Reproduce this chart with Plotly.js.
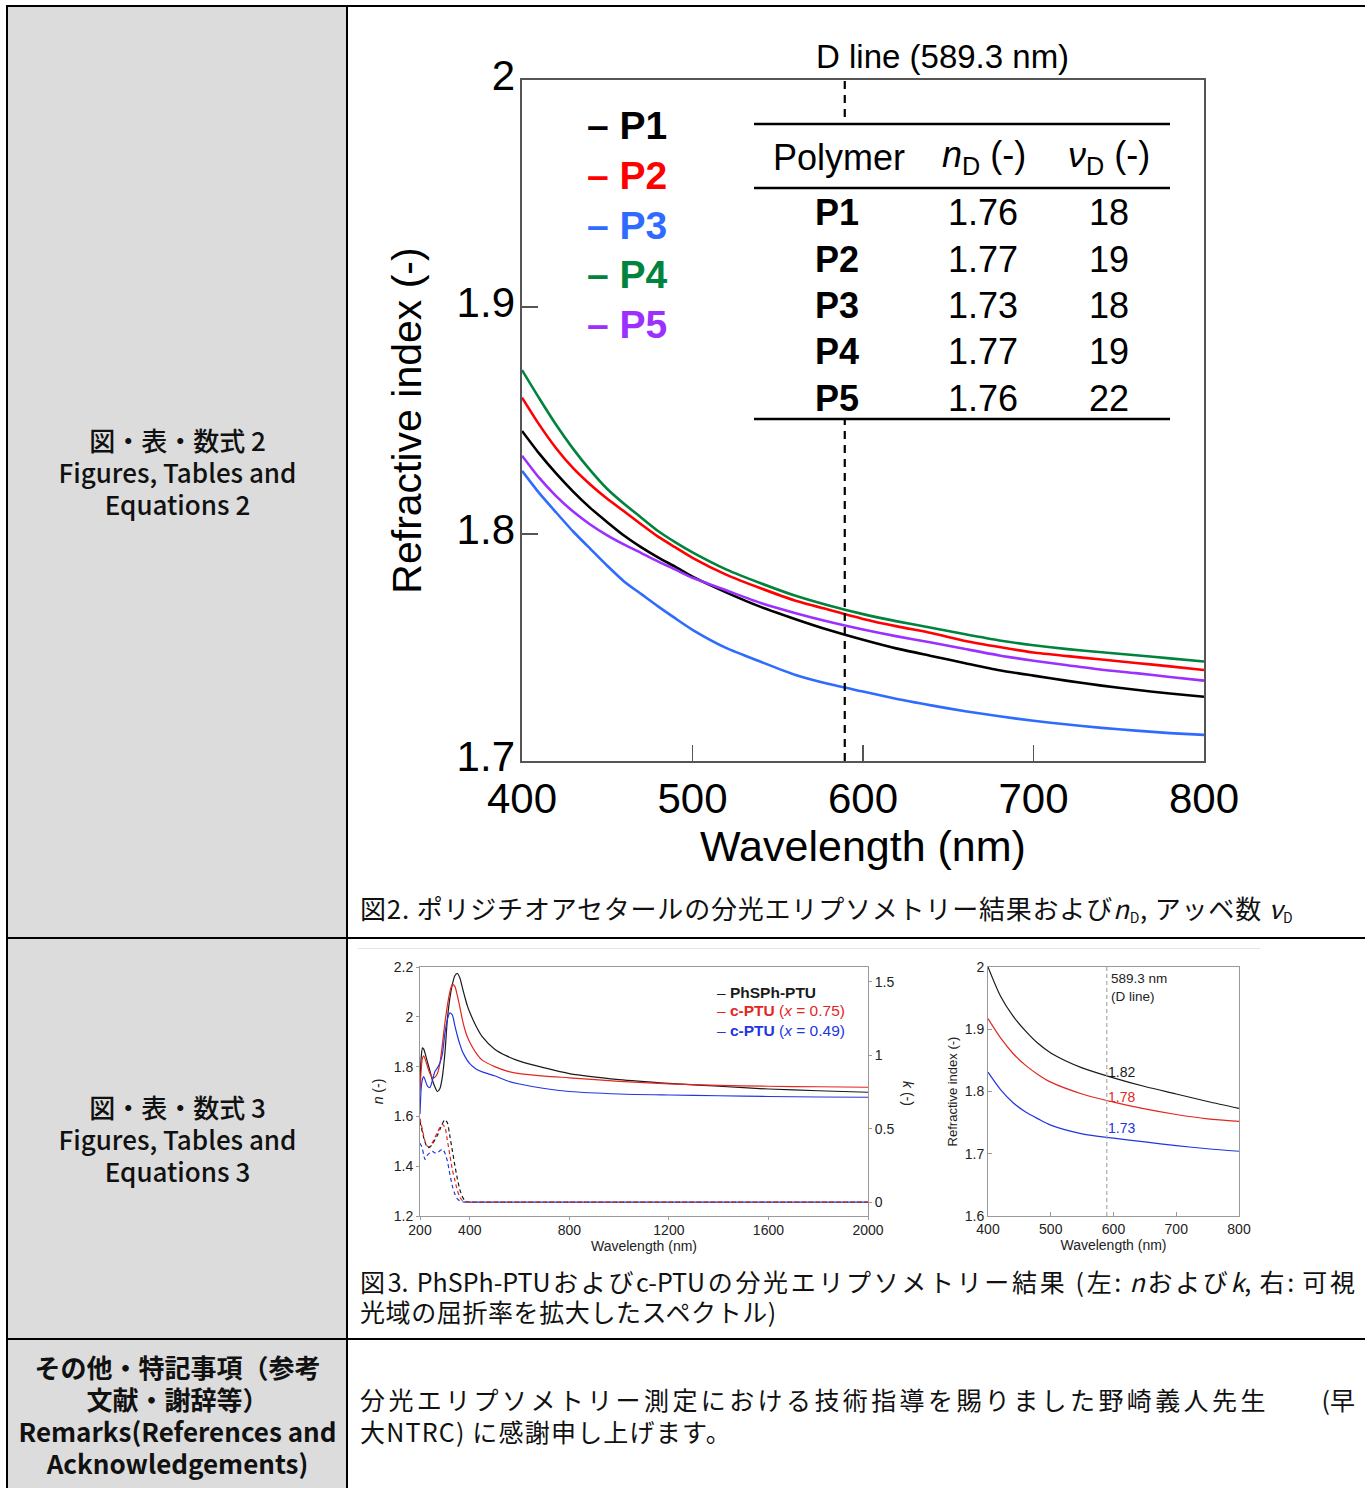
<!DOCTYPE html>
<html><head><meta charset="utf-8">
<script src="https://cdn.plot.ly/plotly-3.0.1.min.js"></script>
<style>
html,body{margin:0;padding:0;background:#fff;}
body{width:1365px;height:1488px;position:relative;overflow:hidden;font-family:"Noto Sans CJK JP","Noto Sans",sans-serif;color:#111;}
.hl{position:absolute;background:#000;height:2px;}
.vl{position:absolute;background:#000;width:2px;}
.lc{position:absolute;left:9px;width:337px;display:flex;flex-direction:column;justify-content:center;align-items:center;text-align:center;font-size:26px;font-weight:500;line-height:32px;}
.cap{position:absolute;left:360px;font-size:25px;line-height:30px;white-space:nowrap;}
.cap sub{font-size:14px;vertical-align:-4px;}
#main,#left3,#right3{position:absolute;}
</style></head><body>
<div style="position:absolute;left:8px;top:6px;width:339px;height:1482px;background:#dcdcdc;"></div>
<div class="hl" style="left:6px;top:5px;width:1359px;"></div>
<div class="hl" style="left:6px;top:937px;width:1359px;"></div>
<div class="hl" style="left:6px;top:1338px;width:1359px;"></div>
<div class="vl" style="left:6px;top:5px;height:1483px;"></div>
<div class="vl" style="left:346px;top:5px;height:1483px;"></div>

<div class="lc" style="top:7px;height:930px;"><div>図・表・数式 2</div><div>Figures, Tables and</div><div>Equations 2</div></div>
<div class="lc" style="top:939px;height:399px;"><div>図・表・数式 3</div><div>Figures, Tables and</div><div>Equations 3</div></div>
<div class="lc" style="top:1340px;height:150px;font-weight:700;"><div>その他・特記事項（参考</div><div>文献・謝辞等）</div><div>Remarks(References and</div><div>Acknowledgements)</div></div>

<div id="main" style="left:349px;top:8px;width:1016px;height:872px;"></div>
<div class="cap" style="top:893px;font-size:26px;letter-spacing:0.8px;">図2. ポリジチオアセタールの分光エリプソメトリー結果および<i>n</i><sub>D</sub>, アッベ数 <i>ν</i><sub>D</sub></div>

<div style="position:absolute;left:358px;top:948px;width:902px;height:1px;background:#e4e4e4;"></div>
<div id="left3" style="left:355px;top:950px;width:575px;height:312px;"></div>
<div id="right3" style="left:935px;top:950px;width:327px;height:312px;"></div>
<div class="cap" style="top:1266px;width:995px;white-space:normal;text-align:justify;text-align-last:justify;">図3. PhSPh-PTUおよびc-PTUの分光エリプソメトリー結果 (左: <i>n</i>および<i>k</i>, 右: 可視</div>
<div class="cap" style="top:1296px;letter-spacing:0.6px;">光域の屈折率を拡大したスペクトル)</div>

<div class="cap" style="top:1384px;width:995px;display:flex;justify-content:space-between;"><span style="letter-spacing:3.4px;">分光エリプソメトリー測定における技術指導を賜りました野崎義人先生</span><span>(早</span></div>
<div class="cap" style="top:1416px;letter-spacing:1.2px;">大NTRC) に感謝申し上げます。</div>

<script>
// ---------- Figure 2 data ----------
const wavelength = [400,410,420,430,440,450,460,470,480,490,500,520,540,560,580,600,620,640,660,680,700,720,740,760,780,800];
const nP1 = [1.8454,1.8355,1.8267,1.8187,1.8115,1.8052,1.7992,1.7941,1.7896,1.7855,1.7812,1.7742,1.7679,1.7626,1.7577,1.7534,1.7495,1.7463,1.7431,1.7400,1.7376,1.7353,1.7332,1.7314,1.7297,1.7283];
const nP2 = [1.8601,1.8483,1.8378,1.8290,1.8218,1.8155,1.8099,1.8042,1.7987,1.7941,1.7895,1.7820,1.7761,1.7707,1.7666,1.7626,1.7593,1.7564,1.7529,1.7502,1.7478,1.7462,1.7447,1.7432,1.7417,1.7401];
const nP3 = [1.8278,1.8181,1.8095,1.8011,1.7935,1.7860,1.7790,1.7735,1.7680,1.7628,1.7578,1.7497,1.7437,1.7380,1.7339,1.7306,1.7273,1.7245,1.7219,1.7197,1.7177,1.7161,1.7146,1.7134,1.7123,1.7115];
const nP4 = [1.8722,1.8599,1.8481,1.8375,1.8281,1.8198,1.8132,1.8072,1.8012,1.7963,1.7919,1.7843,1.7783,1.7729,1.7685,1.7647,1.7615,1.7587,1.7558,1.7531,1.7510,1.7493,1.7479,1.7466,1.7452,1.7438];
const nP5 = [1.8345,1.8248,1.8167,1.8099,1.8042,1.7994,1.7953,1.7916,1.7878,1.7843,1.7807,1.7751,1.7696,1.7652,1.7613,1.7579,1.7549,1.7522,1.7493,1.7465,1.7442,1.7422,1.7402,1.7387,1.7370,1.7354];
const polymerNames = ['P1','P2','P3','P4','P5'];
const tableND = ['1.76','1.77','1.73','1.77','1.76'];
const tableVD = ['18','19','18','19','22'];
const D_LINE = 589.3;
const xTicks2 = [400,500,600,700,800];
const yTicks2 = [1.7,1.8,1.9,2.0];
const yTickText2 = ['1.7','1.8','1.9','2'];

// ---------- Figure 3 (left) data ----------
const wl3 = [200,205,210,215,220,230,240,250,260,270,280,290,300,310,320,330,340,350,360,370,380,390,400,425,450,500,550,600,700,800,1000,1200,1400,1600,1800,2000];
const nPhSPh = [1.730,1.840,1.875,1.870,1.855,1.818,1.783,1.745,1.718,1.700,1.712,1.760,1.853,1.990,2.075,2.130,2.165,2.174,2.157,2.118,2.080,2.045,2.018,1.963,1.920,1.870,1.842,1.822,1.795,1.772,1.748,1.733,1.721,1.710,1.703,1.697];
const nPTU75 = [1.700,1.790,1.835,1.843,1.832,1.800,1.772,1.755,1.757,1.772,1.813,1.890,1.975,2.045,2.100,2.130,2.122,2.085,2.040,1.990,1.950,1.920,1.898,1.855,1.826,1.800,1.782,1.772,1.762,1.755,1.741,1.731,1.725,1.721,1.719,1.717];
const nPTU49 = [1.610,1.715,1.750,1.760,1.748,1.722,1.716,1.745,1.780,1.795,1.815,1.850,1.933,1.990,2.016,2.007,1.965,1.925,1.890,1.862,1.842,1.825,1.812,1.790,1.779,1.763,1.743,1.730,1.712,1.700,1.690,1.686,1.683,1.680,1.678,1.677];
const kPhSPh = [0.55,0.51,0.475,0.44,0.41,0.372,0.375,0.395,0.425,0.455,0.495,0.535,0.562,0.54,0.45,0.35,0.25,0.16,0.085,0.038,0.01,0.002,0,0,0,0,0,0,0,0,0,0,0,0,0,0];
const kPTU75 = [0.57,0.53,0.49,0.45,0.415,0.38,0.38,0.405,0.44,0.475,0.51,0.53,0.51,0.42,0.32,0.22,0.15,0.08,0.035,0.01,0.002,0,0,0,0,0,0,0,0,0,0,0,0,0,0,0];
const kPTU49 = [0.40,0.385,0.36,0.32,0.29,0.32,0.335,0.345,0.335,0.335,0.35,0.36,0.335,0.28,0.19,0.11,0.055,0.022,0.008,0.002,0,0,0,0,0,0,0,0,0,0,0,0,0,0,0,0];
const sampleNames = ['PhSPh-PTU','c-PTU','c-PTU'];
const sampleX = ['','0.75','0.49'];
const xTicks3 = [200,400,800,1200,1600,2000];
const nTicks3 = [1.2,1.4,1.6,1.8,2.0,2.2];
const nTickText3 = ['1.2','1.4','1.6','1.8','2','2.2'];
const kTicks3 = [0,0.5,1,1.5];
const kTickText3 = ['0','0.5','1','1.5'];

// ---------- Figure 3 (right) data ----------
const wl4 = [400,420,440,460,480,500,550,600,650,700,750,800];
const rPhSPh = [2.000,1.953,1.921,1.897,1.877,1.862,1.838,1.822,1.808,1.796,1.784,1.773];
const rPTU75 = [1.917,1.886,1.861,1.842,1.827,1.815,1.796,1.783,1.772,1.763,1.756,1.752];
const rPTU49 = [1.831,1.803,1.782,1.767,1.756,1.746,1.732,1.725,1.719,1.713,1.708,1.704];
const dLineValues = [1.82,1.78,1.73];
const xTicks4 = [400,500,600,700,800];
const yTicks4 = [1.6,1.7,1.8,1.9,2.0];
const yTickText4 = ['1.6','1.7','1.8','1.9','2'];

// ---------- styles ----------
const colors2 = ['#000000','#ff0000','#2f6bff','#00843d','#9b30ff'];
const colors3 = ['#1a1a1a','#e3261f','#2236e0'];
const FONT = 'Liberation Sans, Arial, Helvetica, sans-serif';
const cfg = {staticPlot:true, displayModeBar:false};

// ===== Figure 2 =====
(function(){
  const L=522, R=1204, T=80, B=761;
  const PX = p => (p-L)/(R-L);
  const PY = p => (B-p)/(B-T);
  const series = [nP1,nP2,nP3,nP4,nP5];
  const traces = series.map((ys,i)=>({
    x: wavelength, y: ys, type:'scatter', mode:'lines', name: polymerNames[i],
    line:{color:colors2[i], width:2.6, shape:'spline', smoothing:0.6}
  }));
  const ann = [];
  ann.push({xref:'paper',yref:'paper',x:PX(942),y:PY(57),text:'D line (589.3 nm)',showarrow:false,
    xanchor:'center',yanchor:'middle',font:{size:33,color:'#000'}});
  polymerNames.forEach((nm,i)=>{
    ann.push({xref:'paper',yref:'paper',x:PX(585),y:PY(126+49.5*i),text:'<b>– '+nm+'</b>',showarrow:false,
      xanchor:'left',yanchor:'middle',font:{size:39,color:colors2[i]}});
  });
  const hdr = [['Polymer',839],['<i>n</i><sub>D</sub> (-)',984],['<i>ν</i><sub>D</sub> (-)',1109]];
  hdr.forEach(h=>ann.push({xref:'paper',yref:'paper',x:PX(h[1]),y:PY(157),text:h[0],showarrow:false,
      xanchor:'center',yanchor:'middle',font:{size:36,color:'#000'}}));
  polymerNames.forEach((nm,i)=>{
    const yy = PY(213+46.3*i);
    ann.push({xref:'paper',yref:'paper',x:PX(837),y:yy,text:'<b>'+nm+'</b>',showarrow:false,xanchor:'center',yanchor:'middle',font:{size:36,color:'#000'}});
    ann.push({xref:'paper',yref:'paper',x:PX(983),y:yy,text:tableND[i],showarrow:false,xanchor:'center',yanchor:'middle',font:{size:36,color:'#000'}});
    ann.push({xref:'paper',yref:'paper',x:PX(1109),y:yy,text:tableVD[i],showarrow:false,xanchor:'center',yanchor:'middle',font:{size:36,color:'#000'}});
  });
  const shapes = [
    {type:'line',xref:'x',yref:'paper',x0:D_LINE,x1:D_LINE,y0:0,y1:1,line:{color:'#000',width:2.2,dash:'8px,6px'}},
    {type:'rect',xref:'paper',yref:'paper',x0:PX(754),x1:PX(1170),y0:PY(419),y1:PY(124),fillcolor:'#fff',line:{width:0}},
    {type:'line',xref:'paper',yref:'paper',x0:PX(754),x1:PX(1170),y0:PY(124),y1:PY(124),line:{color:'#000',width:2.5}},
    {type:'line',xref:'paper',yref:'paper',x0:PX(754),x1:PX(1170),y0:PY(188),y1:PY(188),line:{color:'#000',width:2.5}},
    {type:'line',xref:'paper',yref:'paper',x0:PX(754),x1:PX(1170),y0:PY(419),y1:PY(419),line:{color:'#000',width:2.5}}
  ];
  const ax = {showgrid:false, zeroline:false, showline:true, linecolor:'#555', linewidth:1.6, mirror:true,
    ticks:'inside', ticklen:16, tickwidth:1.5, tickcolor:'#555'};
  Plotly.newPlot('main', traces, {
    width:1016, height:872, margin:{l:173,r:161,t:72,b:119},
    paper_bgcolor:'rgba(0,0,0,0)', plot_bgcolor:'rgba(0,0,0,0)',
    font:{family:FONT,color:'#000'}, showlegend:false,
    xaxis:Object.assign({},ax,{range:[400,800],tickvals:xTicks2,tickfont:{size:42,color:'#000'},
      title:{text:'Wavelength (nm)',font:{size:43,color:'#000'},standoff:6}}),
    yaxis:Object.assign({},ax,{range:[1.7,2.0],tickvals:yTicks2,ticktext:yTickText2,tickfont:{size:42,color:'#000'},
      ticklabelshift:-5, ticklabelstandoff:-3,
      title:{text:'Refractive index (-)',font:{size:41,color:'#000'},standoff:22}}),
    shapes:shapes, annotations:ann
  }, cfg);
})();

// ===== Figure 3 left =====
(function(){
  const L=420, R=868, T=967, B=1216;
  const PX = p => (p-L)/(R-L);
  const PY = p => (B-p)/(B-T);
  const nSeries=[nPhSPh,nPTU75,nPTU49], kSeries=[kPhSPh,kPTU75,kPTU49];
  const traces=[];
  nSeries.forEach((ys,i)=>traces.push({x:wl3,y:ys,type:'scatter',mode:'lines',yaxis:'y',
    line:{color:colors3[i],width:1.2,shape:'spline',smoothing:0.7}}));
  kSeries.forEach((ys,i)=>traces.push({x:wl3,y:ys,type:'scatter',mode:'lines',yaxis:'y2',
    line:{color:colors3[i],width:1.2,dash:'4px,3px',shape:'spline',smoothing:0.7}}));
  const ann=[];
  sampleNames.forEach((nm,i)=>{
    let t='– <b>'+nm+'</b>';
    if(sampleX[i]) t+=' (<i>x</i> = '+sampleX[i]+')';
    ann.push({xref:'paper',yref:'paper',x:PX(715),y:PY(992+19*i),text:t,showarrow:false,xanchor:'left',yanchor:'middle',
      font:{size:15.5,color:colors3[i]}});
  });
  ann.push({xref:'paper',yref:'paper',x:PX(908),y:PY(1093),text:'<i>k</i> (-)',textangle:90,showarrow:false,
    xanchor:'center',yanchor:'middle',font:{size:14,color:'#222'}});
  const ax={showgrid:false,zeroline:false,showline:true,linecolor:'#999',linewidth:1,ticks:'outside',ticklen:3,tickcolor:'#999',
    tickfont:{size:14,color:'#222'}};
  Plotly.newPlot('left3',traces,{
    width:575,height:312,margin:{l:65,r:62,t:17,b:46},
    paper_bgcolor:'rgba(0,0,0,0)',plot_bgcolor:'rgba(0,0,0,0)',font:{family:FONT,color:'#222'},showlegend:false,
    xaxis:Object.assign({},ax,{range:[200,2000],tickvals:xTicks3,mirror:true,ticklabelstandoff:-2,title:{text:'Wavelength (nm)',font:{size:14,color:'#222'},standoff:2}}),
    yaxis:Object.assign({},ax,{range:[1.2,2.2],tickvals:nTicks3,ticktext:nTickText3,title:{text:'<i>n</i> (-)',font:{size:14,color:'#222'},standoff:6}}),
    yaxis2:Object.assign({},ax,{overlaying:'y',side:'right',range:[-0.095,1.602],tickvals:kTicks3,ticktext:kTickText3}),
    annotations:ann
  },cfg);
})();

// ===== Figure 3 right =====
(function(){
  const L=988, R=1239, T=967, B=1216;
  const PX = p => (p-L)/(R-L);
  const PY = p => (B-p)/(B-T);
  const series=[rPhSPh,rPTU75,rPTU49];
  const traces=series.map((ys,i)=>({x:wl4,y:ys,type:'scatter',mode:'lines',
    line:{color:colors3[i],width:1.2,shape:'spline',smoothing:0.8}}));
  const ann=[{xref:'paper',yref:'paper',x:PX(1109),y:PY(969),text:'589.3 nm<br>(D line)',align:'left',showarrow:false,
    xanchor:'left',yanchor:'top',font:{size:13.5,color:'#222'}}];
  dLineValues.forEach((v,i)=>ann.push({xref:'x',yref:'y',x:D_LINE,y:v,text:v.toFixed(2),showarrow:false,
    xanchor:'left',yanchor:'bottom',xshift:-1,yshift:-3,font:{size:14,color:colors3[i]}}));
  const ax={showgrid:false,zeroline:false,showline:true,linecolor:'#999',linewidth:1,mirror:true,ticks:'inside',ticklen:4,tickcolor:'#999',
    tickfont:{size:14,color:'#222'}};
  Plotly.newPlot('right3',traces,{
    width:327,height:312,margin:{l:53,r:23,t:17,b:46},
    paper_bgcolor:'rgba(0,0,0,0)',plot_bgcolor:'rgba(0,0,0,0)',font:{family:FONT,color:'#222'},showlegend:false,
    xaxis:Object.assign({},ax,{range:[400,800],tickvals:xTicks4,title:{text:'Wavelength (nm)',font:{size:14,color:'#222'},standoff:2}}),
    yaxis:Object.assign({},ax,{range:[1.6,2.0],tickvals:yTicks4,ticktext:yTickText4,title:{text:'Refractive index (-)',font:{size:13,color:'#222'},standoff:4}}),
    shapes:[{type:'line',xref:'x',yref:'paper',x0:D_LINE,x1:D_LINE,y0:0,y1:1,line:{color:'#aaa',width:1.2,dash:'4px,3px'}}],
    annotations:ann
  },cfg);
})();
</script>
</body></html>
